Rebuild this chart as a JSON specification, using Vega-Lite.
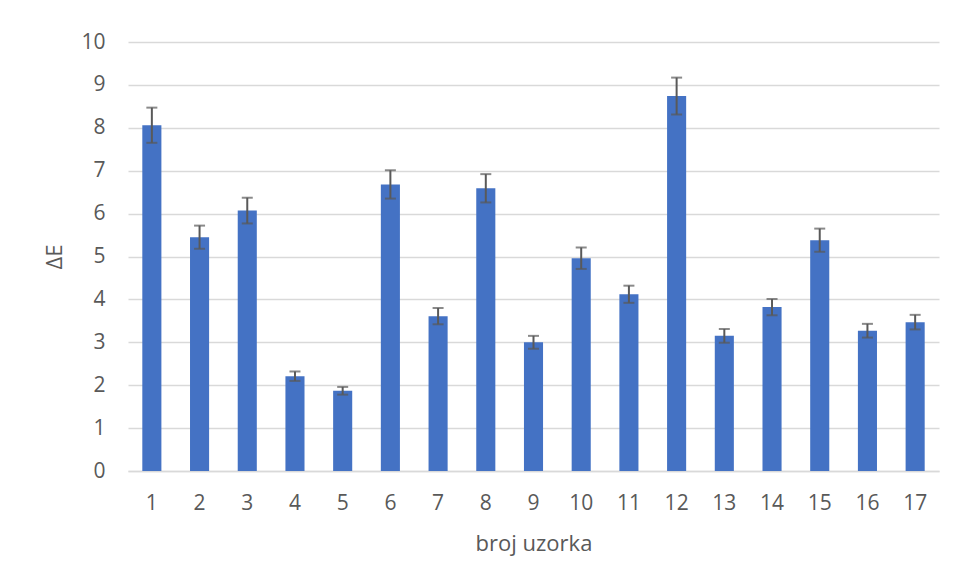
{
  "$schema": "https://vega.github.io/schema/vega-lite/v6.json",
  "width": 811,
  "height": 429,
  "autosize": "none",
  "padding": {"left": 128, "top": 42, "right": 17, "bottom": 110},
  "background": "white",
  "data": {
    "values": [
      {"uzorak": "1", "dE": 8.06, "err": 0.41},
      {"uzorak": "2", "dE": 5.45, "err": 0.27},
      {"uzorak": "3", "dE": 6.07, "err": 0.30},
      {"uzorak": "4", "dE": 2.21, "err": 0.11},
      {"uzorak": "5", "dE": 1.87, "err": 0.09},
      {"uzorak": "6", "dE": 6.68, "err": 0.33},
      {"uzorak": "7", "dE": 3.61, "err": 0.19},
      {"uzorak": "8", "dE": 6.59, "err": 0.33},
      {"uzorak": "9", "dE": 3.00, "err": 0.15},
      {"uzorak": "10", "dE": 4.96, "err": 0.25},
      {"uzorak": "11", "dE": 4.12, "err": 0.20},
      {"uzorak": "12", "dE": 8.74, "err": 0.43},
      {"uzorak": "13", "dE": 3.15, "err": 0.16},
      {"uzorak": "14", "dE": 3.82, "err": 0.19},
      {"uzorak": "15", "dE": 5.38, "err": 0.27},
      {"uzorak": "16", "dE": 3.27, "err": 0.16},
      {"uzorak": "17", "dE": 3.47, "err": 0.17}
    ]
  },
  "config": {
    "font": "Open Sans",
    "view": {"stroke": null},
    "axis": {
      "labelFont": "Open Sans",
      "titleFont": "Open Sans",
      "labelColor": "#595959",
      "titleColor": "#595959",
      "titleFontWeight": "normal",
      "ticks": false
    }
  },
  "encoding": {
    "x": {
      "field": "uzorak",
      "type": "ordinal",
      "sort": null,
      "scale": {"paddingInner": 0.6, "paddingOuter": 0.3},
      "axis": {
        "title": "broj uzorka",
        "labelAngle": 0,
        "labelFontSize": 21,
        "titleFontSize": 22,
        "labelPadding": 21,
        "titlePadding": 20,
        "domainColor": "#d9d9d9",
        "domainWidth": 1.3,
        "grid": false
      }
    }
  },
  "layer": [
    {
      "mark": {"type": "bar", "color": "#4472C4"},
      "encoding": {
        "y": {
          "field": "dE",
          "type": "quantitative",
          "scale": {"domain": [0, 10]},
          "title": "ΔE",
          "axis": {
            "values": [0, 1, 2, 3, 4, 5, 6, 7, 8, 9, 10],
            "labelFontSize": 21,
            "titleFontSize": 22,
            "domain": false,
            "grid": true,
            "gridColor": "#d9d9d9",
            "gridWidth": 1.3,
            "labelPadding": 23,
            "titlePadding": 14
          }
        }
      }
    },
    {
      "mark": {
        "type": "errorbar",
        "ticks": {"size": 11, "thickness": 2, "color": "#595959"},
        "rule": {"strokeWidth": 2, "color": "#595959"}
      },
      "encoding": {
        "y": {"field": "dE", "type": "quantitative", "title": "ΔE"},
        "yError": {"field": "err"}
      }
    }
  ]
}
